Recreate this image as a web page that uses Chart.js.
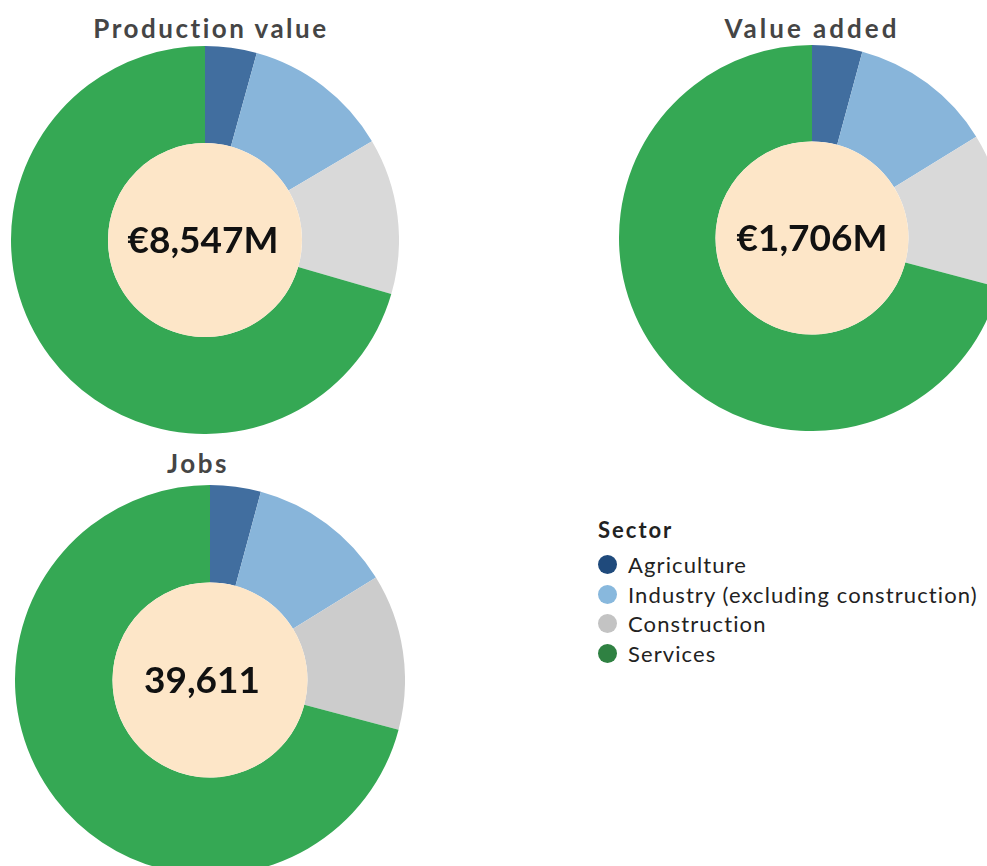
<!DOCTYPE html>
<html>
<head>
<meta charset="utf-8">
<script src="https://cdn.jsdelivr.net/npm/chart.js@4"></script>
<style>
  html, body { margin: 0; padding: 0; background: #fff; overflow: hidden; }
  body { width: 987px; height: 866px; position: relative; font-family: "Lato", "DejaVu Sans", sans-serif; }
  canvas { position: absolute; }
  .title { position: absolute; font-weight: 700; font-size: 26px; letter-spacing: 2.5px; color: #454545; text-align: center; width: 400px; line-height: 30px; }
  .title.wide { letter-spacing: 3px; }
  #legend { position: absolute; left: 598px; top: 515px; color: #222; }
  #legend h3 { margin: 0 0 5px 0; font-size: 22px; font-weight: 700; letter-spacing: 2px; line-height: 30px; }
  #legend .item { display: flex; align-items: center; height: 29.5px; font-size: 22px; letter-spacing: 1.1px; }
  #legend .dot { width: 19px; height: 19px; border-radius: 50%; margin-right: 11px; }
</style>
</head>
<body>
<div class="title" style="left:11px; top:13px;">Production value</div>
<div class="title wide" style="left:612px; top:13px;">Value added</div>
<div class="title" style="left:-2px; top:448px;">Jobs</div>

<canvas id="production" width="388" height="388" style="left:11px; top:46px;"></canvas>
<canvas id="valueAdded" width="386" height="386" style="left:619px; top:45px;"></canvas>
<canvas id="jobs" width="390" height="390" style="left:15px; top:485px;"></canvas>

<div id="legend"><h3>Sector</h3></div>

<script>
const sectors = ["Agriculture", "Industry (excluding construction)", "Construction", "Services"];

// share of each sector, %
const productionShares = [4.3, 12.2, 13.0, 70.5];
const valueAddedShares = [4.2, 12.0, 12.9, 70.9];
const jobsShares = [4.2, 12.0, 12.9, 70.9];

const totals = ["€8,547M", "€1,706M", "39,611"];

const sliceColors = ["#416e9f", "#88b5da", "#d9d9d9", "#35a854"];
const jobsSliceColors = ["#416e9f", "#88b5da", "#cccccc", "#35a854"];
const legendColors = ["#1f4a7c", "#88b8dd", "#c3c3c3", "#2f8142"];

// fills the hole and writes the total in the middle
const centerLabel = {
  id: "centerLabel",
  afterDatasetsDraw(chart, args, opts) {
    const arc = chart.getDatasetMeta(0).data[0];
    if (!arc) return;
    const ctx = chart.ctx;
    ctx.save();
    ctx.beginPath();
    ctx.arc(arc.x, arc.y, arc.innerRadius, 0, Math.PI * 2);
    ctx.fillStyle = "#fde6c8";
    ctx.fill();
    ctx.fillStyle = "#111";
    ctx.font = "bold 37px Lato, 'DejaVu Sans', sans-serif";
    ctx.textAlign = "center";
    ctx.textBaseline = "middle";
    ctx.fillText(opts.text, arc.x + (opts.dx || 0), arc.y + 1);
    ctx.restore();
  }
};

function makeDonut(id, shares, colors, total, dx) {
  return new Chart(document.getElementById(id), {
    type: "doughnut",
    data: {
      labels: sectors,
      datasets: [{
        data: shares,
        backgroundColor: colors,
        borderWidth: 0,
        hoverOffset: 0
      }]
    },
    options: {
      responsive: false,
      animation: false,
      cutout: "50%",
      layout: { padding: 0 },
      events: [],
      plugins: {
        legend: { display: false },
        tooltip: { enabled: false },
        centerLabel: { text: total, dx: dx }
      }
    },
    plugins: [centerLabel]
  });
}

makeDonut("production", productionShares, sliceColors, totals[0], -2);
makeDonut("valueAdded", valueAddedShares, sliceColors, totals[1], 0);
makeDonut("jobs", jobsShares, jobsSliceColors, totals[2], -8);

const legend = document.getElementById("legend");
sectors.forEach((s, i) => {
  legend.innerHTML += `<div class="item"><span class="dot" style="background:${legendColors[i]}"></span>${s}</div>`;
});
</script>
</body>
</html>
